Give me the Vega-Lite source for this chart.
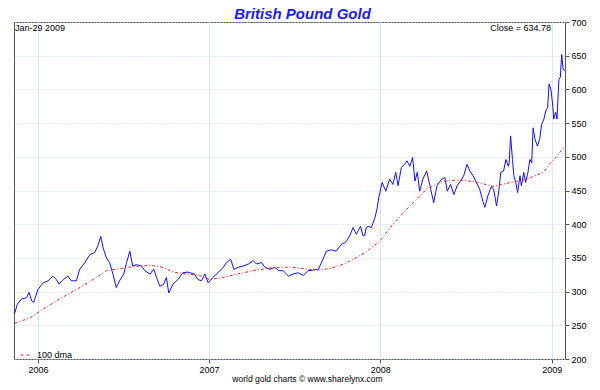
{
  "$schema": "https://vega.github.io/schema/vega-lite/v6.json",
  "autosize": {"type": "none"},
  "width": 551,
  "height": 337,
  "padding": {"left": 14, "top": 22, "right": 35, "bottom": 31},
  "background": "white",
  "title": {
    "text": "British Pound Gold",
    "font": "Liberation Sans",
    "fontSize": 15,
    "fontStyle": "italic",
    "fontWeight": "bold",
    "color": "#1a1aff",
    "anchor": "middle",
    "offset": -4,
    "dx": 13
  },
  "config": {
    "view": {"stroke": "#555", "strokeWidth": 1},
    "font": "Liberation Sans"
  },
  "datasets": {
    "gold": [
      {"date": "2005-11-11", "value": 267},
      {"date": "2005-11-13", "value": 269},
      {"date": "2005-11-18", "value": 281},
      {"date": "2005-11-27", "value": 289},
      {"date": "2005-12-08", "value": 291},
      {"date": "2005-12-13", "value": 299},
      {"date": "2005-12-19", "value": 286},
      {"date": "2005-12-23", "value": 284},
      {"date": "2006-01-01", "value": 303},
      {"date": "2006-01-12", "value": 313},
      {"date": "2006-01-23", "value": 316},
      {"date": "2006-02-02", "value": 323},
      {"date": "2006-02-09", "value": 318},
      {"date": "2006-02-15", "value": 311},
      {"date": "2006-02-24", "value": 318},
      {"date": "2006-03-06", "value": 323},
      {"date": "2006-03-13", "value": 316},
      {"date": "2006-03-24", "value": 316},
      {"date": "2006-03-31", "value": 333},
      {"date": "2006-04-11", "value": 343},
      {"date": "2006-04-22", "value": 355},
      {"date": "2006-05-02", "value": 358},
      {"date": "2006-05-09", "value": 368},
      {"date": "2006-05-15", "value": 382},
      {"date": "2006-05-20", "value": 365},
      {"date": "2006-05-27", "value": 350},
      {"date": "2006-06-03", "value": 343},
      {"date": "2006-06-10", "value": 326},
      {"date": "2006-06-17", "value": 306},
      {"date": "2006-06-24", "value": 316},
      {"date": "2006-07-03", "value": 326},
      {"date": "2006-07-09", "value": 343},
      {"date": "2006-07-16", "value": 360},
      {"date": "2006-07-22", "value": 338},
      {"date": "2006-07-30", "value": 340},
      {"date": "2006-08-10", "value": 338},
      {"date": "2006-08-17", "value": 331},
      {"date": "2006-08-28", "value": 326},
      {"date": "2006-09-05", "value": 333},
      {"date": "2006-09-11", "value": 321},
      {"date": "2006-09-18", "value": 308},
      {"date": "2006-09-26", "value": 311},
      {"date": "2006-10-02", "value": 321},
      {"date": "2006-10-07", "value": 298},
      {"date": "2006-10-16", "value": 311},
      {"date": "2006-10-27", "value": 318},
      {"date": "2006-11-06", "value": 328},
      {"date": "2006-11-17", "value": 329},
      {"date": "2006-11-21", "value": 328},
      {"date": "2006-12-01", "value": 326},
      {"date": "2006-12-08", "value": 318},
      {"date": "2006-12-16", "value": 316},
      {"date": "2006-12-23", "value": 326},
      {"date": "2006-12-30", "value": 313},
      {"date": "2007-01-09", "value": 321},
      {"date": "2007-01-20", "value": 328},
      {"date": "2007-01-31", "value": 336},
      {"date": "2007-02-07", "value": 343},
      {"date": "2007-02-16", "value": 348},
      {"date": "2007-02-23", "value": 333},
      {"date": "2007-03-04", "value": 336},
      {"date": "2007-03-15", "value": 338},
      {"date": "2007-03-26", "value": 341},
      {"date": "2007-04-05", "value": 346},
      {"date": "2007-04-12", "value": 341},
      {"date": "2007-04-23", "value": 343},
      {"date": "2007-04-30", "value": 336},
      {"date": "2007-05-11", "value": 333},
      {"date": "2007-05-21", "value": 336},
      {"date": "2007-05-30", "value": 331},
      {"date": "2007-06-08", "value": 331},
      {"date": "2007-06-19", "value": 323},
      {"date": "2007-06-29", "value": 326},
      {"date": "2007-07-10", "value": 328},
      {"date": "2007-07-21", "value": 324},
      {"date": "2007-07-31", "value": 331},
      {"date": "2007-08-11", "value": 332},
      {"date": "2007-08-22", "value": 333},
      {"date": "2007-09-01", "value": 348},
      {"date": "2007-09-08", "value": 360},
      {"date": "2007-09-19", "value": 362},
      {"date": "2007-09-29", "value": 360},
      {"date": "2007-10-10", "value": 370},
      {"date": "2007-10-19", "value": 373},
      {"date": "2007-10-28", "value": 383},
      {"date": "2007-11-04", "value": 395},
      {"date": "2007-11-11", "value": 385},
      {"date": "2007-11-20", "value": 397},
      {"date": "2007-11-25", "value": 383},
      {"date": "2007-11-29", "value": 383},
      {"date": "2007-12-02", "value": 395},
      {"date": "2007-12-06", "value": 397},
      {"date": "2007-12-13", "value": 395},
      {"date": "2007-12-20", "value": 408},
      {"date": "2007-12-25", "value": 422},
      {"date": "2007-12-29", "value": 440},
      {"date": "2008-01-05", "value": 462},
      {"date": "2008-01-13", "value": 449},
      {"date": "2008-01-21", "value": 467},
      {"date": "2008-01-28", "value": 459},
      {"date": "2008-02-03", "value": 477},
      {"date": "2008-02-08", "value": 457},
      {"date": "2008-02-15", "value": 484},
      {"date": "2008-02-22", "value": 489},
      {"date": "2008-02-27", "value": 494},
      {"date": "2008-03-04", "value": 486},
      {"date": "2008-03-10", "value": 499},
      {"date": "2008-03-15", "value": 464},
      {"date": "2008-03-20", "value": 477},
      {"date": "2008-03-25", "value": 449},
      {"date": "2008-04-01", "value": 467},
      {"date": "2008-04-09", "value": 479},
      {"date": "2008-04-16", "value": 457},
      {"date": "2008-04-24", "value": 432},
      {"date": "2008-05-01", "value": 457},
      {"date": "2008-05-11", "value": 467},
      {"date": "2008-05-18", "value": 469},
      {"date": "2008-05-23", "value": 449},
      {"date": "2008-05-30", "value": 459},
      {"date": "2008-06-06", "value": 444},
      {"date": "2008-06-13", "value": 457},
      {"date": "2008-06-20", "value": 464},
      {"date": "2008-06-27", "value": 472},
      {"date": "2008-07-04", "value": 489},
      {"date": "2008-07-10", "value": 479},
      {"date": "2008-07-17", "value": 472},
      {"date": "2008-07-24", "value": 462},
      {"date": "2008-07-31", "value": 452},
      {"date": "2008-08-07", "value": 434},
      {"date": "2008-08-11", "value": 425},
      {"date": "2008-08-18", "value": 443},
      {"date": "2008-08-25", "value": 456},
      {"date": "2008-08-30", "value": 451},
      {"date": "2008-09-05", "value": 427},
      {"date": "2008-09-10", "value": 450},
      {"date": "2008-09-14", "value": 477},
      {"date": "2008-09-20", "value": 479},
      {"date": "2008-09-25", "value": 496},
      {"date": "2008-09-30", "value": 486},
      {"date": "2008-10-02", "value": 491},
      {"date": "2008-10-05", "value": 531},
      {"date": "2008-10-09", "value": 496},
      {"date": "2008-10-12", "value": 472},
      {"date": "2008-10-16", "value": 462},
      {"date": "2008-10-20", "value": 447},
      {"date": "2008-10-25", "value": 472},
      {"date": "2008-10-28", "value": 457},
      {"date": "2008-11-02", "value": 477},
      {"date": "2008-11-06", "value": 462},
      {"date": "2008-11-11", "value": 477},
      {"date": "2008-11-15", "value": 496},
      {"date": "2008-11-19", "value": 491},
      {"date": "2008-11-22", "value": 543},
      {"date": "2008-11-26", "value": 526},
      {"date": "2008-12-01", "value": 516},
      {"date": "2008-12-06", "value": 526},
      {"date": "2008-12-10", "value": 548},
      {"date": "2008-12-15", "value": 556},
      {"date": "2008-12-19", "value": 568},
      {"date": "2008-12-23", "value": 573},
      {"date": "2008-12-26", "value": 608},
      {"date": "2008-12-30", "value": 600},
      {"date": "2009-01-03", "value": 575},
      {"date": "2009-01-05", "value": 556},
      {"date": "2009-01-09", "value": 566},
      {"date": "2009-01-12", "value": 556},
      {"date": "2009-01-16", "value": 615},
      {"date": "2009-01-19", "value": 618},
      {"date": "2009-01-22", "value": 652},
      {"date": "2009-01-25", "value": 630},
      {"date": "2009-01-29", "value": 628}
    ],
    "dma": [
      {"date": "2005-11-13", "value": 253},
      {"date": "2005-12-15", "value": 261},
      {"date": "2006-01-12", "value": 274},
      {"date": "2006-02-16", "value": 289},
      {"date": "2006-03-24", "value": 303},
      {"date": "2006-04-29", "value": 318},
      {"date": "2006-05-27", "value": 331},
      {"date": "2006-06-24", "value": 334},
      {"date": "2006-07-23", "value": 337},
      {"date": "2006-08-28", "value": 339},
      {"date": "2006-09-25", "value": 336},
      {"date": "2006-10-16", "value": 329},
      {"date": "2006-11-14", "value": 326},
      {"date": "2006-12-12", "value": 324},
      {"date": "2007-01-02", "value": 318},
      {"date": "2007-01-31", "value": 321},
      {"date": "2007-03-08", "value": 327},
      {"date": "2007-04-12", "value": 332},
      {"date": "2007-05-18", "value": 335.6},
      {"date": "2007-06-22", "value": 336.5},
      {"date": "2007-07-21", "value": 334},
      {"date": "2007-08-18", "value": 332},
      {"date": "2007-09-15", "value": 334},
      {"date": "2007-10-14", "value": 340.5},
      {"date": "2007-11-11", "value": 350.4},
      {"date": "2007-12-02", "value": 359},
      {"date": "2007-12-31", "value": 375},
      {"date": "2008-01-28", "value": 400},
      {"date": "2008-03-04", "value": 427},
      {"date": "2008-04-09", "value": 452},
      {"date": "2008-05-14", "value": 464},
      {"date": "2008-06-19", "value": 465.6},
      {"date": "2008-07-24", "value": 462.6},
      {"date": "2008-08-29", "value": 456},
      {"date": "2008-10-04", "value": 461.7},
      {"date": "2008-11-08", "value": 466.6},
      {"date": "2008-12-14", "value": 477},
      {"date": "2008-12-28", "value": 490},
      {"date": "2009-01-11", "value": 500},
      {"date": "2009-01-24", "value": 512},
      {"date": "2009-01-29", "value": 514}
    ],
    "notesLeft": [
      {"date": "2005-11-13", "value": 697, "label": "Jan-29 2009"}
    ],
    "notesRight": [
      {"date": "2008-12-30", "value": 697, "label": "Close = 634.78"}
    ]
  },
  "encoding": {
    "x": {
      "field": "date",
      "type": "temporal",
      "scale": {"domain": [{"year": 2005, "month": 11, "date": 11}, {"year": 2009, "month": 1, "date": 29}]},
      "axis": {
        "format": "%Y",
        "tickCount": {"interval": "year", "step": 1},
        "labelFont": "Liberation Sans",
        "labelFontSize": 9,
        "labelColor": "#000",
        "labelPadding": 2,
        "tickSize": 4,
        "tickColor": "#555",
        "domain": false,
        "grid": true,
        "gridColor": "#dde6f7",
        "gridWidth": 1,
        "title": "world gold charts © www.sharelynx.com",
        "titleFont": "Liberation Sans",
        "titleFontSize": 8.5,
        "titleFontWeight": "normal",
        "titleColor": "#000",
        "titleX": 293,
        "titleY": 19.5,
        "titleBaseline": "middle"
      }
    },
    "y": {
      "field": "value",
      "type": "quantitative",
      "scale": {"domain": [200, 700], "nice": false, "zero": false},
      "axis": {
        "orient": "right",
        "values": [200, 250, 300, 350, 400, 450, 500, 550, 600, 650, 700],
        "labelOverlap": false,
        "labelFont": "Liberation Sans",
        "labelFontSize": 9,
        "labelColor": "#000",
        "labelPadding": 2,
        "tickSize": 4,
        "tickColor": "#555",
        "domain": false,
        "grid": true,
        "gridColor": "#c9d8f2",
        "gridDash": [1, 2],
        "title": null
      }
    }
  },
  "layer": [
    {
      "data": {"name": "gold"},
      "mark": {"type": "line", "color": "#1010ff", "strokeWidth": 1},
      "encoding": {}
    },
    {
      "data": {"name": "dma"},
      "mark": {"type": "line", "strokeWidth": 1, "strokeDash": [3, 2, 1, 2]},
      "encoding": {
        "color": {
          "datum": "100 dma",
          "scale": {"range": ["#ff2020"]},
          "legend": {
            "title": null,
            "orient": "none",
            "legendX": 6,
            "legendY": 327,
            "padding": 0,
            "symbolType": "stroke",
            "symbolDash": [3, 3],
            "symbolStrokeWidth": 1,
            "symbolSize": 120,
            "labelFont": "Liberation Sans",
            "labelFontSize": 9,
            "labelColor": "#000",
            "labelOffset": 5
          }
        }
      }
    },
    {
      "data": {"name": "notesLeft"},
      "mark": {"type": "text", "align": "left", "baseline": "top", "font": "Liberation Sans", "fontSize": 9, "color": "#000"},
      "encoding": {
        "text": {"field": "label"}
      }
    },
    {
      "data": {"name": "notesRight"},
      "mark": {"type": "text", "align": "right", "baseline": "top", "font": "Liberation Sans", "fontSize": 9, "color": "#000"},
      "encoding": {
        "text": {"field": "label"}
      }
    }
  ]
}
